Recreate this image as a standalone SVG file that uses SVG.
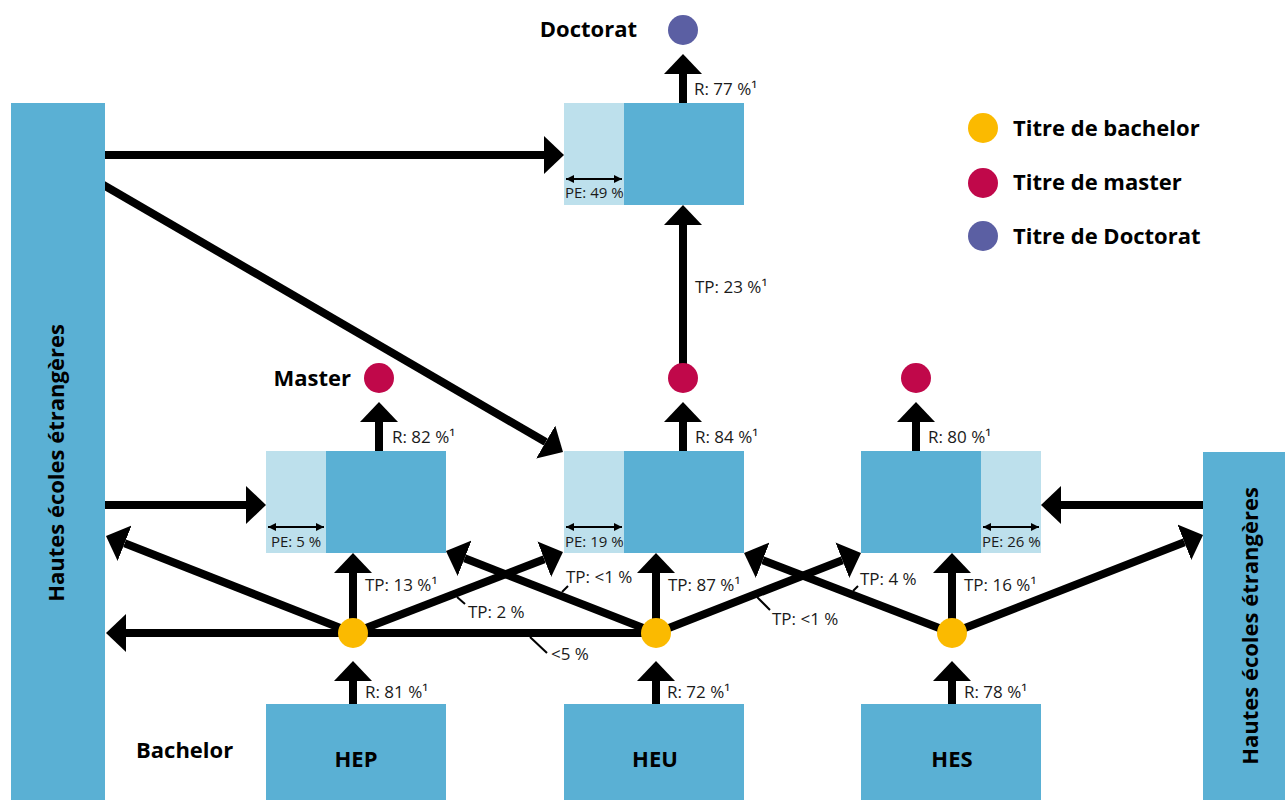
<svg xmlns="http://www.w3.org/2000/svg" width="1285" height="800" viewBox="0 0 1285 800">
<style>
.dark{fill:#5ab0d4}
.light{fill:#bde0ec}
.con{stroke:#000;stroke-width:8;fill:none;marker-end:url(#ah)}
.lead{stroke:#000;stroke-width:2;fill:none}
.pe{stroke:#000;stroke-width:2;fill:none;marker-start:url(#sh);marker-end:url(#sh)}
.lbl{font-family:"Open Sans","Liberation Sans",sans-serif;font-size:17px;fill:#1a1a1a}
.pel{font-family:"Open Sans","Liberation Sans",sans-serif;font-size:15px;fill:#1a1a1a}
.ttl{font-family:"Open Sans","Liberation Sans",sans-serif;font-size:22px;font-weight:bold;fill:#000}
.bach{fill:#fbba00}
.mast{fill:#c0084a}
.doc{fill:#5b5fa3}
</style>
<defs>
<marker id="ah" markerUnits="userSpaceOnUse" markerWidth="20" markerHeight="38" refX="0" refY="19" orient="auto"><path d="M0,0 L20,19 L0,38 z" fill="#000"/></marker>
<marker id="sh" markerUnits="userSpaceOnUse" markerWidth="8" markerHeight="8" refX="8" refY="4" orient="auto-start-reverse"><path d="M0,0 L8,4 L0,8 z" fill="#000"/></marker>
</defs>
<rect width="1285" height="800" fill="#fff"/>

<g id="connectors">
<line class="con" x1="100" y1="155" x2="544" y2="155"/>
<line class="con" x1="100" y1="183" x2="545.7" y2="442"/>
<line class="con" x1="100" y1="505" x2="246" y2="505"/>
<line class="con" x1="353" y1="633" x2="124.6" y2="543.3"/>
<line class="con" x1="656" y1="633" x2="126" y2="633"/>
<line class="con" x1="353" y1="633" x2="544.3" y2="559.2"/>
<line class="con" x1="656" y1="633" x2="464.6" y2="558.3"/>
<line class="con" x1="656" y1="633" x2="842.4" y2="560.2"/>
<line class="con" x1="952" y1="633" x2="762.7" y2="560.2"/>
<line class="con" x1="952" y1="633" x2="1184.4" y2="542.3"/>
<line class="con" x1="1210" y1="505" x2="1061" y2="505"/>
<line class="con" x1="353" y1="710" x2="353" y2="681"/>
<line class="con" x1="656" y1="710" x2="656" y2="681"/>
<line class="con" x1="952" y1="710" x2="952" y2="681"/>
<line class="con" x1="353" y1="633" x2="353" y2="573"/>
<line class="con" x1="656" y1="633" x2="656" y2="573"/>
<line class="con" x1="952" y1="633" x2="952" y2="573"/>
<line class="con" x1="379" y1="460" x2="379" y2="422"/>
<line class="con" x1="683" y1="460" x2="683" y2="422"/>
<line class="con" x1="916" y1="460" x2="916" y2="422"/>
<line class="con" x1="683" y1="378" x2="683" y2="225"/>
<line class="con" x1="683" y1="110" x2="683" y2="74"/>
<line class="lead" x1="457" y1="597" x2="465" y2="604"/>
<line class="lead" x1="562" y1="592" x2="568" y2="586"/>
<line class="lead" x1="530" y1="637" x2="547" y2="653"/>
<line class="lead" x1="757" y1="597" x2="770" y2="610"/>
<line class="lead" x1="853" y1="591" x2="858" y2="586"/>
</g>

<g id="foreign-left">
<rect class="dark" x="11" y="103" width="94" height="697"/>
<text class="ttl" text-anchor="middle" transform="translate(64,463) rotate(-90)">Hautes écoles étrangères</text>
</g>
<g id="foreign-right">
<rect class="dark" x="1203" y="452" width="82" height="348"/>
<text class="ttl" text-anchor="middle" transform="translate(1258,626) rotate(-90)">Hautes écoles étrangères</text>
</g>

<g id="doctorat-box">
<rect class="light" x="564" y="103" width="60" height="102"/>
<rect class="dark" x="624" y="103" width="120" height="102"/>
<line class="pe" x1="566" y1="179" x2="622" y2="179"/>
<text class="pel" x="565" y="198">PE: 49 %</text>
</g>
<g id="master-hep">
<rect class="light" x="266" y="451" width="60" height="102"/>
<rect class="dark" x="326" y="451" width="120" height="102"/>
<line class="pe" x1="268" y1="527" x2="324" y2="527"/>
<text class="pel" x="271" y="547">PE: 5 %</text>
</g>
<g id="master-heu">
<rect class="light" x="564" y="451" width="60" height="102"/>
<rect class="dark" x="624" y="451" width="120" height="102"/>
<line class="pe" x1="566" y1="527" x2="622" y2="527"/>
<text class="pel" x="565" y="547">PE: 19 %</text>
</g>
<g id="master-hes">
<rect class="dark" x="861" y="451" width="120" height="102"/>
<rect class="light" x="981" y="451" width="60" height="102"/>
<line class="pe" x1="983" y1="527" x2="1039" y2="527"/>
<text class="pel" x="982" y="547">PE: 26 %</text>
</g>

<g id="bachelor-hep">
<rect class="dark" x="266" y="704" width="180" height="96"/>
<text class="ttl" x="356" y="767" text-anchor="middle">HEP</text>
</g>
<g id="bachelor-heu">
<rect class="dark" x="564" y="704" width="180" height="96"/>
<text class="ttl" x="655" y="767" text-anchor="middle">HEU</text>
</g>
<g id="bachelor-hes">
<rect class="dark" x="861" y="704" width="180" height="96"/>
<text class="ttl" x="952" y="767" text-anchor="middle">HES</text>
</g>

<g id="dots">
<circle class="bach" cx="353" cy="633" r="15"/>
<circle class="bach" cx="656" cy="633" r="15"/>
<circle class="bach" cx="952" cy="633" r="15"/>
<circle class="mast" cx="379" cy="378" r="15"/>
<circle class="mast" cx="683" cy="378" r="15"/>
<circle class="mast" cx="916" cy="378" r="15"/>
<circle class="doc" cx="683" cy="30" r="15"/>
</g>

<g id="titles">
<text class="ttl" x="637" y="37" text-anchor="end">Doctorat</text>
<text class="ttl" x="351" y="386" text-anchor="end">Master</text>
<text class="ttl" x="136" y="758">Bachelor</text>
</g>

<g id="labels">
<text class="lbl" x="694" y="95">R: 77 %¹</text>
<text class="lbl" x="695" y="293">TP: 23 %¹</text>
<text class="lbl" x="392" y="443">R: 82 %¹</text>
<text class="lbl" x="695" y="443">R: 84 %¹</text>
<text class="lbl" x="928" y="443">R: 80 %¹</text>
<text class="lbl" x="365" y="591">TP: 13 %¹</text>
<text class="lbl" x="668" y="591">TP: 87 %¹</text>
<text class="lbl" x="964" y="591">TP: 16 %¹</text>
<text class="lbl" x="566" y="583">TP: &lt;1 %</text>
<text class="lbl" x="860" y="585">TP: 4 %</text>
<text class="lbl" x="468" y="618">TP: 2 %</text>
<text class="lbl" x="772" y="625">TP: &lt;1 %</text>
<text class="lbl" x="551" y="660">&lt;5 %</text>
<text class="lbl" x="365" y="698">R: 81 %¹</text>
<text class="lbl" x="667" y="698">R: 72 %¹</text>
<text class="lbl" x="964" y="698">R: 78 %¹</text>
</g>

<g id="legend">
<circle class="bach" cx="983" cy="128" r="15"/>
<text class="ttl" x="1013" y="136">Titre de bachelor</text>
<circle class="mast" cx="983" cy="183" r="15"/>
<text class="ttl" x="1013" y="190">Titre de master</text>
<circle class="doc" cx="983" cy="236" r="15"/>
<text class="ttl" x="1013" y="244">Titre de Doctorat</text>
</g>
</svg>
